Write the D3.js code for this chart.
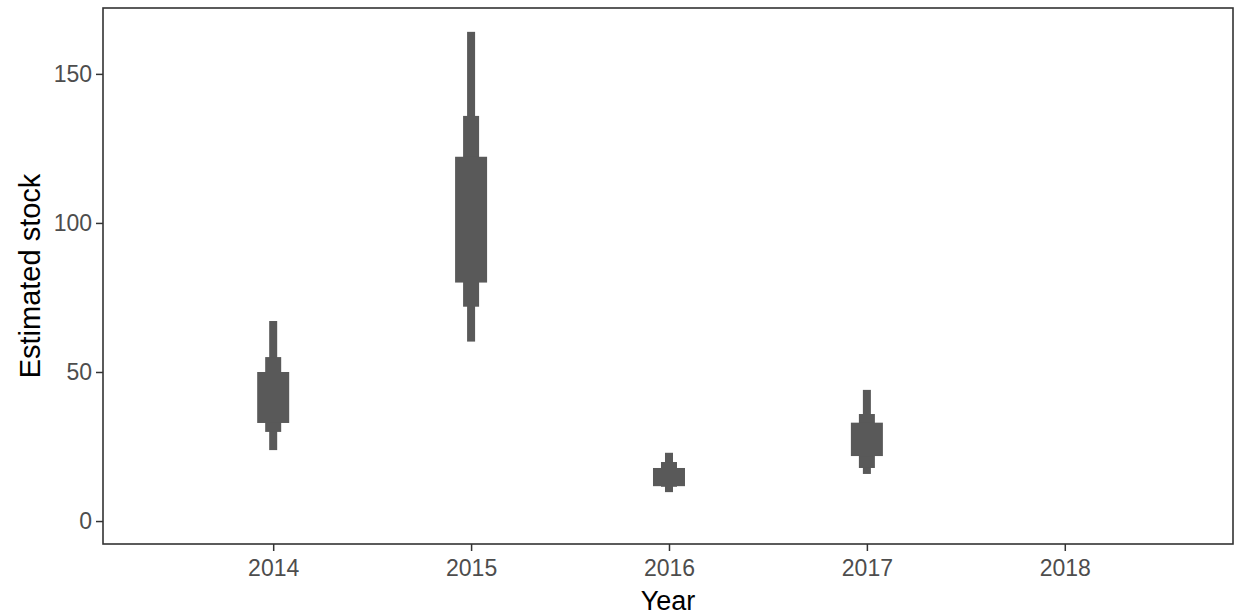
<!DOCTYPE html>
<html>
<head>
<meta charset="utf-8">
<script src="https://cdn.jsdelivr.net/npm/d3@7"></script>
<style>
  body { margin: 0; background: #fff; }
  svg text { font-family: "Liberation Sans", Arial, sans-serif; }
</style>
</head>
<body>
<svg id="chart" width="1238" height="615"></svg>
<script>
// interval estimates per year (outer = widest interval, inner = narrowest)
var years = [2014, 2015, 2016, 2017];
var outerLo = [23.8, 60.2, 9.7, 15.8];
var outerHi = [67.1, 164.1, 22.9, 44.0];
var midLo = [29.9, 71.9, 11.5, 17.8];
var midHi = [55.0, 135.9, 19.8, 35.9];
var innerLo = [32.9, 80.0, 11.7, 21.8];
var innerHi = [50.0, 122.2, 17.8, 33.0];
var xTicks = [2014, 2015, 2016, 2017, 2018];
var yTicks = [0, 50, 100, 150];

var svg = d3.select("#chart"),
    margin = { top: 8, right: 5, bottom: 71, left: 103 },
    width = +svg.attr("width") - margin.left - margin.right,
    height = +svg.attr("height") - margin.top - margin.bottom;

var x = d3.scaleLinear().domain([2013.14, 2018.85]).range([margin.left, margin.left + width]);
var y = d3.scaleLinear().domain([-7.7, 172.1]).range([margin.top + height, margin.top]);

var levels = [
    { lo: outerLo, hi: outerHi, w: 8 },
    { lo: midLo, hi: midHi, w: 16 },
    { lo: innerLo, hi: innerHi, w: 32 }
];

levels.forEach(function (lv) {
    svg.append("g")
        .selectAll("rect")
        .data(years)
        .enter().append("rect")
        .attr("x", function (d) { return x(d) - lv.w / 2; })
        .attr("width", lv.w)
        .attr("y", function (d, i) { return y(lv.hi[i]); })
        .attr("height", function (d, i) { return y(lv.lo[i]) - y(lv.hi[i]); })
        .attr("fill", "#595959");
});

// axes
var xAxis = svg.append("g")
    .attr("transform", "translate(0," + (margin.top + height) + ")")
    .call(d3.axisBottom(x).tickValues(xTicks).tickFormat(d3.format("d")).tickSizeOuter(0).tickSize(7).tickPadding(9));
var yAxis = svg.append("g")
    .attr("transform", "translate(" + margin.left + ",0)")
    .call(d3.axisLeft(y).tickValues(yTicks).tickSizeOuter(0).tickSize(7).tickPadding(4));

[xAxis, yAxis].forEach(function (ax) {
    ax.select(".domain").remove();
    ax.selectAll(".tick line").attr("stroke", "#333333").attr("stroke-width", 1.5);
    ax.selectAll(".tick text").attr("fill", "#4d4d4d").attr("font-size", 23);
});

// panel border
svg.append("rect")
    .attr("x", margin.left)
    .attr("y", margin.top)
    .attr("width", width)
    .attr("height", height)
    .attr("fill", "none")
    .attr("stroke", "#333333")
    .attr("stroke-width", 1.6);

svg.append("text")
    .attr("x", margin.left + width / 2)
    .attr("y", 610)
    .attr("text-anchor", "middle")
    .attr("font-size", 27)
    .attr("fill", "#000")
    .text("Year");

svg.append("text")
    .attr("transform", "translate(40," + (margin.top + height / 2) + ") rotate(-90)")
    .attr("text-anchor", "middle")
    .attr("font-size", 29)
    .attr("fill", "#000")
    .text("Estimated stock");
</script>
</body>
</html>
